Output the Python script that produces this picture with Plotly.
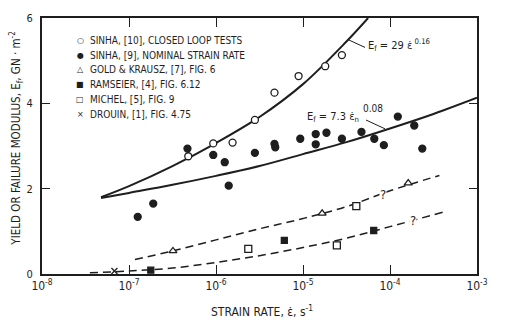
import plotly.graph_objects as go

# ---------------- data ----------------
# strain rate (s^-1) and yield/failure modulus (GN m^-2)
sinha10_rate = [4.8e-7, 9.3e-7, 1.55e-6, 2.8e-6, 4.7e-6, 8.9e-6, 1.8e-5, 2.8e-5]
sinha10_E = [2.76, 3.06, 3.08, 3.61, 4.25, 4.64, 4.87, 5.13]

sinha9_rate = [1.26e-7, 1.9e-7, 4.7e-7, 9.3e-7, 1.26e-6, 1.4e-6, 2.8e-6, 4.7e-6, 4.8e-6,
               9.3e-6, 1.4e-5, 1.4e-5, 1.86e-5, 2.8e-5, 4.7e-5, 6.6e-5, 8.5e-5,
               1.23e-4, 1.9e-4, 2.35e-4]
sinha9_E = [1.34, 1.65, 2.94, 2.79, 2.62, 2.07, 2.84, 3.05, 2.97,
            3.17, 3.28, 3.04, 3.31, 3.17, 3.33, 3.17, 3.02,
            3.69, 3.48, 2.94]

gold_rate = [3.2e-7, 1.66e-5, 1.62e-4]
gold_E = [0.54, 1.42, 2.13]

ramseier_rate = [1.78e-7, 6.1e-6, 6.5e-5]
ramseier_E = [0.09, 0.79, 1.02]

michel_rate = [2.35e-6, 2.45e-5, 4.1e-5]
michel_E = [0.59, 0.67, 1.59]

drouin_rate = [6.8e-8]
drouin_E = [0.07]

# fitted curves
fit_upper_rate = [4.77e-8, 1e-7, 3.16e-7, 1e-6, 3.16e-6, 1e-5, 3.16e-5, 5.6e-5]
fit_upper_E = [1.80, 2.06, 2.53, 3.07, 3.68, 4.45, 5.45, 6.0]

fit_lower_rate = [4.77e-8, 1e-7, 3.16e-7, 1e-6, 3.16e-6, 1e-5, 3.16e-5, 1e-4, 3.16e-4, 1e-3]
fit_lower_E = [1.78, 1.90, 2.09, 2.30, 2.53, 2.81, 3.09, 3.41, 3.75, 4.13]

dash_upper_rate = [1.17e-7, 3.16e-7, 1e-6, 3.16e-6, 1e-5, 3.16e-5, 1e-4, 3.7e-4]
dash_upper_E = [0.34, 0.54, 0.80, 1.06, 1.30, 1.58, 1.95, 2.31]

dash_lower_rate = [3.55e-8, 1e-7, 3.16e-7, 1e-6, 3.16e-6, 1e-5, 3.16e-5, 1e-4, 4.07e-4]
dash_lower_E = [0.03, 0.07, 0.14, 0.27, 0.43, 0.62, 0.84, 1.11, 1.45]

x_tickvals = [1e-8, 1e-7, 1e-6, 1e-5, 1e-4, 1e-3]
x_ticktext = ["10<sup>-8</sup>", "10<sup>-7</sup>", "10<sup>-6</sup>",
              "10<sup>-5</sup>", "10<sup>-4</sup>", "10<sup>-3</sup>"]
y_tickvals = [0, 2, 4, 6]

legend_symbols = ["○", "●", "△", "■", "□", "×"]
legend_labels = ["SINHA, [10], CLOSED LOOP TESTS",
                 "SINHA, [9], NOMINAL STRAIN RATE",
                 "GOLD & KRAUSZ, [7], FIG. 6",
                 "RAMSEIER, [4], FIG. 6.12",
                 "MICHEL, [5], FIG. 9",
                 "DROUIN, [1], FIG. 4.75"]

# ---------------- styling ----------------
INK = "#1e1e1e"
FONT = "Liberation Sans Narrow, DejaVu Sans Condensed, Liberation Sans, sans-serif"

fig = go.Figure()

# curves
for xs, ys in [(fit_upper_rate, fit_upper_E), (fit_lower_rate, fit_lower_E)]:
    fig.add_trace(go.Scatter(x=xs, y=ys, mode="lines",
                             line=dict(color=INK, width=2, shape="spline", smoothing=1.0),
                             showlegend=False, hoverinfo="skip"))
for xs, ys in [(dash_upper_rate, dash_upper_E), (dash_lower_rate, dash_lower_E)]:
    fig.add_trace(go.Scatter(x=xs, y=ys, mode="lines",
                             line=dict(color=INK, width=1.5, dash="8px,5px", shape="spline", smoothing=1.0),
                             showlegend=False, hoverinfo="skip"))

# data points
def pts(xs, ys, symbol, fill, size):
    fig.add_trace(go.Scatter(x=xs, y=ys, mode="markers", showlegend=False,
                             marker=dict(symbol=symbol, size=size, color=fill,
                                         line=dict(color=INK, width=1.3))))

pts(sinha10_rate, sinha10_E, "circle", "white", 7)
pts(sinha9_rate, sinha9_E, "circle", INK, 7)
pts(gold_rate, gold_E, "triangle-up", "white", 7)
pts(ramseier_rate, ramseier_E, "square", INK, 6)
pts(michel_rate, michel_E, "square", "white", 7)
pts(drouin_rate, drouin_E, "x-thin", INK, 6)

annotations = []
# legend drawn as text
row_y = [36, 51, 66, 81, 96, 111]
for sym, lab, py in zip(legend_symbols, legend_labels, row_y):
    yp = (274 - py) / 261
    annotations.append(dict(xref="paper", yref="paper", x=(80 - 42) / 435, y=yp,
                            text=sym, showarrow=False, xanchor="center", yanchor="middle",
                            font=dict(family="DejaVu Sans", size=8, color=INK)))
    annotations.append(dict(xref="paper", yref="paper", x=(88 - 42) / 435, y=yp,
                            text=lab, showarrow=False, xanchor="left", yanchor="middle",
                            font=dict(family=FONT, size=10, color=INK)))

# curve labels
annotations.append(dict(xref="paper", yref="paper", x=(366 - 42) / 435, y=(274 - 41) / 261,
                        text="E<sub>f</sub> = 29 ε̇<sup> 0.16</sup>", showarrow=False,
                        xanchor="left", yanchor="middle", font=dict(family=FONT, size=11, color=INK)))
annotations.append(dict(xref="paper", yref="paper", x=(305 - 42) / 435, y=(274 - 114) / 261,
                        text="E<sub>f</sub> = 7.3 ε̇<sub>n</sub>", showarrow=False,
                        xanchor="left", yanchor="middle", font=dict(family=FONT, size=11, color=INK)))
annotations.append(dict(xref="paper", yref="paper", x=(361 - 42) / 435, y=(274 - 105) / 261,
                        text="0.08", showarrow=False,
                        xanchor="left", yanchor="middle", font=dict(family=FONT, size=10, color=INK)))
# question marks on dashed lines
for px, py in [(383, 193), (413, 219)]:
    annotations.append(dict(xref="paper", yref="paper", x=(px - 42) / 435, y=(274 - py) / 261,
                            text="?", showarrow=False, xanchor="center", yanchor="middle",
                            bgcolor="white", borderpad=0,
                            font=dict(family=FONT, size=13, color=INK)))
# axis titles
annotations.append(dict(xref="paper", yref="paper", x=(262 - 42) / 435, y=(274 - 312) / 261,
                        text="STRAIN RATE, ε̇, s<sup>-1</sup>", showarrow=False,
                        xanchor="center", yanchor="middle", font=dict(family=FONT, size=12, color=INK)))
annotations.append(dict(xref="paper", yref="paper", x=(16 - 42) / 435, y=(274 - 136) / 261,
                        text="YIELD OR FAILURE MODULUS, E<sub>f</sub>, GN · m<sup>-2</sup>",
                        showarrow=False, textangle=-90,
                        xanchor="center", yanchor="middle", font=dict(family=FONT, size=11.5, color=INK)))

shapes = [
    dict(type="line", xref="paper", yref="paper",
         x0=(348 - 42) / 435, y0=(274 - 35) / 261, x1=(365 - 42) / 435, y1=(274 - 43) / 261,
         line=dict(color=INK, width=1)),
    dict(type="line", xref="paper", yref="paper",
         x0=(366 - 42) / 435, y0=(274 - 117) / 261, x1=(385 - 42) / 435, y1=(274 - 126) / 261,
         line=dict(color=INK, width=1)),
]

fig.update_layout(
    width=513, height=326,
    margin=dict(l=42, r=36, t=13, b=52),
    paper_bgcolor="white", plot_bgcolor="white",
    showlegend=False,
    annotations=annotations,
    shapes=shapes,
    font=dict(family=FONT, size=10, color=INK),
    xaxis=dict(type="log", range=[-8, -3], tickvals=x_tickvals, ticktext=x_ticktext,
               ticks="inside", ticklen=9, tickwidth=1, tickcolor=INK,
               showline=True, linecolor=INK, linewidth=2, mirror="ticks",
               showgrid=False, zeroline=False,
               tickfont=dict(family=FONT, size=12, color=INK)),
    yaxis=dict(range=[0, 6], tickvals=y_tickvals,
               ticks="inside", ticklen=8, tickwidth=1, tickcolor=INK,
               showline=True, linecolor=INK, linewidth=2, mirror="ticks",
               showgrid=False, zeroline=False, ticklabelstandoff=5,
               tickfont=dict(family=FONT, size=11, color=INK)),
)

fig.write_html("out.html")
